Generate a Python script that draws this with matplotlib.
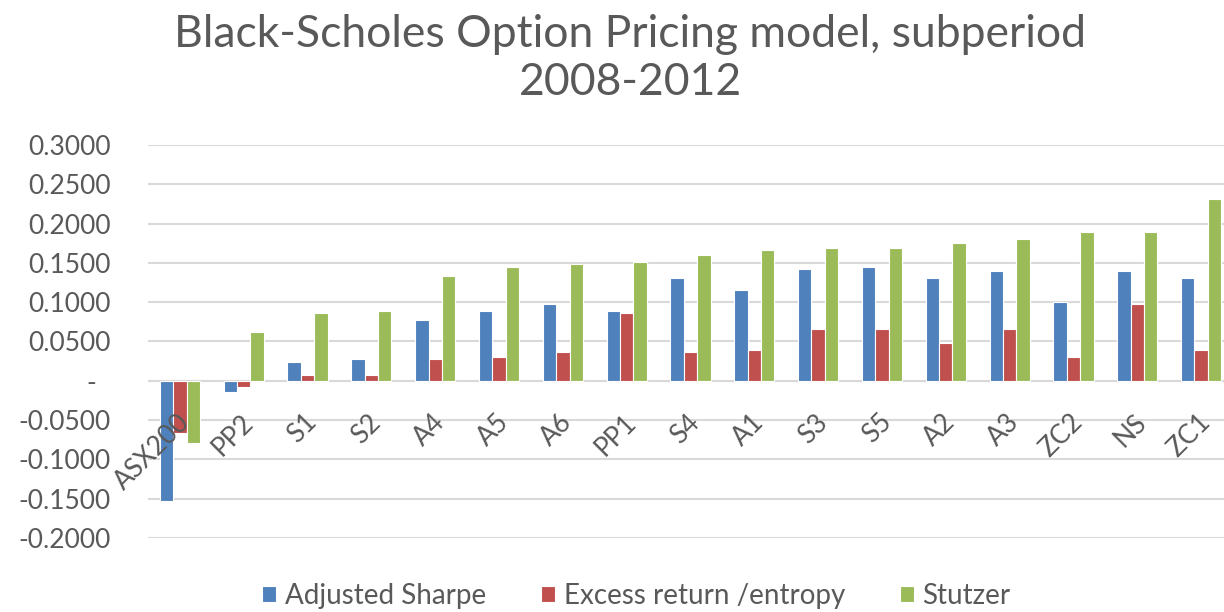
import matplotlib
matplotlib.use("Agg")
import matplotlib.pyplot as plt
import numpy as np
from matplotlib.ticker import FixedLocator, FuncFormatter

plt.rcParams['font.family'] = ['Lato', 'DejaVu Sans']

categories = ["ASX200", "PP2", "S1", "S2", "A4", "A5", "A6", "PP1", "S4",
              "A1", "S3", "S5", "A2", "A3", "ZC2", "NS", "ZC1"]
adjusted_sharpe = [-0.1526, -0.0137, 0.0243, 0.0273, 0.0773, 0.0892, 0.0978, 0.0892, 0.1303,
                   0.1154, 0.1423, 0.1453, 0.1303, 0.1393, 0.1008, 0.1393, 0.1303]
excess_entropy = [-0.0670, -0.0080, 0.0068, 0.0068, 0.0273, 0.0303, 0.0363, 0.0863, 0.0363,
                  0.0393, 0.0654, 0.0654, 0.0478, 0.0654, 0.0303, 0.0978, 0.0393]
stutzer = [-0.0790, 0.0623, 0.0859, 0.0888, 0.1333, 0.1453, 0.1482, 0.1508, 0.1598,
           0.1658, 0.1688, 0.1688, 0.1748, 0.1808, 0.1893, 0.1893, 0.2308]
series_names = ["Adjusted Sharpe", "Excess return /entropy", "Stutzer"]
colors = ["#4F81BD", "#C0504D", "#9BBB59"]
yticks = [-0.2, -0.15, -0.1, -0.05, 0.0, 0.05, 0.1, 0.15, 0.2, 0.25, 0.3]

fig = plt.figure(figsize=(12.24, 6.12), dpi=100)
ax = fig.add_axes([148/1224, 1-538/612, (1233-148)/1224, (538-145)/612])

x = np.arange(len(categories))
w = 0.21
for k, (vals, name, c) in enumerate(zip([adjusted_sharpe, excess_entropy, stutzer], series_names, colors)):
    ax.bar(x + (k-1)*w, vals, width=w, color=c, edgecolor='white', linewidth=0.8, label=name, zorder=3)

ax.set_xlim(-0.5, len(categories)-0.5)
ax.set_ylim(-0.2, 0.3)
ax.yaxis.set_major_locator(FixedLocator(yticks))
ax.yaxis.set_major_formatter(FuncFormatter(lambda v, p: "-  " if abs(v) < 1e-9 else f"{v:.4f}"))
ax.tick_params(axis='y', length=0, pad=27, labelsize=19, labelcolor='#595959')
ax.set_xticks([])
ax.grid(axis='y', color='#D9D9D9', linewidth=1.5, zorder=0)
ax.axhline(0, color='#D9D9D9', linewidth=1.5, zorder=2)
for s in ax.spines.values():
    s.set_visible(False)

for i, lab in enumerate(categories):
    ax.annotate(lab, xy=(i, 0), xytext=(4, -27), textcoords='offset points',
                rotation=45, rotation_mode='anchor', ha='right', va='center',
                fontsize=19, color='#595959', zorder=4)

fig.text(0.515, 0.977, "Black-Scholes Option Pricing model, subperiod\n2008-2012",
         ha='center', va='top', fontsize=32, color='#595959', linespacing=1.2)

leg = fig.legend(loc='center', bbox_to_anchor=(0.52, 0.026), ncol=3, frameon=False,
                 fontsize=20, handlelength=0.5, handleheight=0.5, handletextpad=0.3,
                 columnspacing=2.0, labelcolor='#595959')

fig.savefig("out.png", dpi=100)
